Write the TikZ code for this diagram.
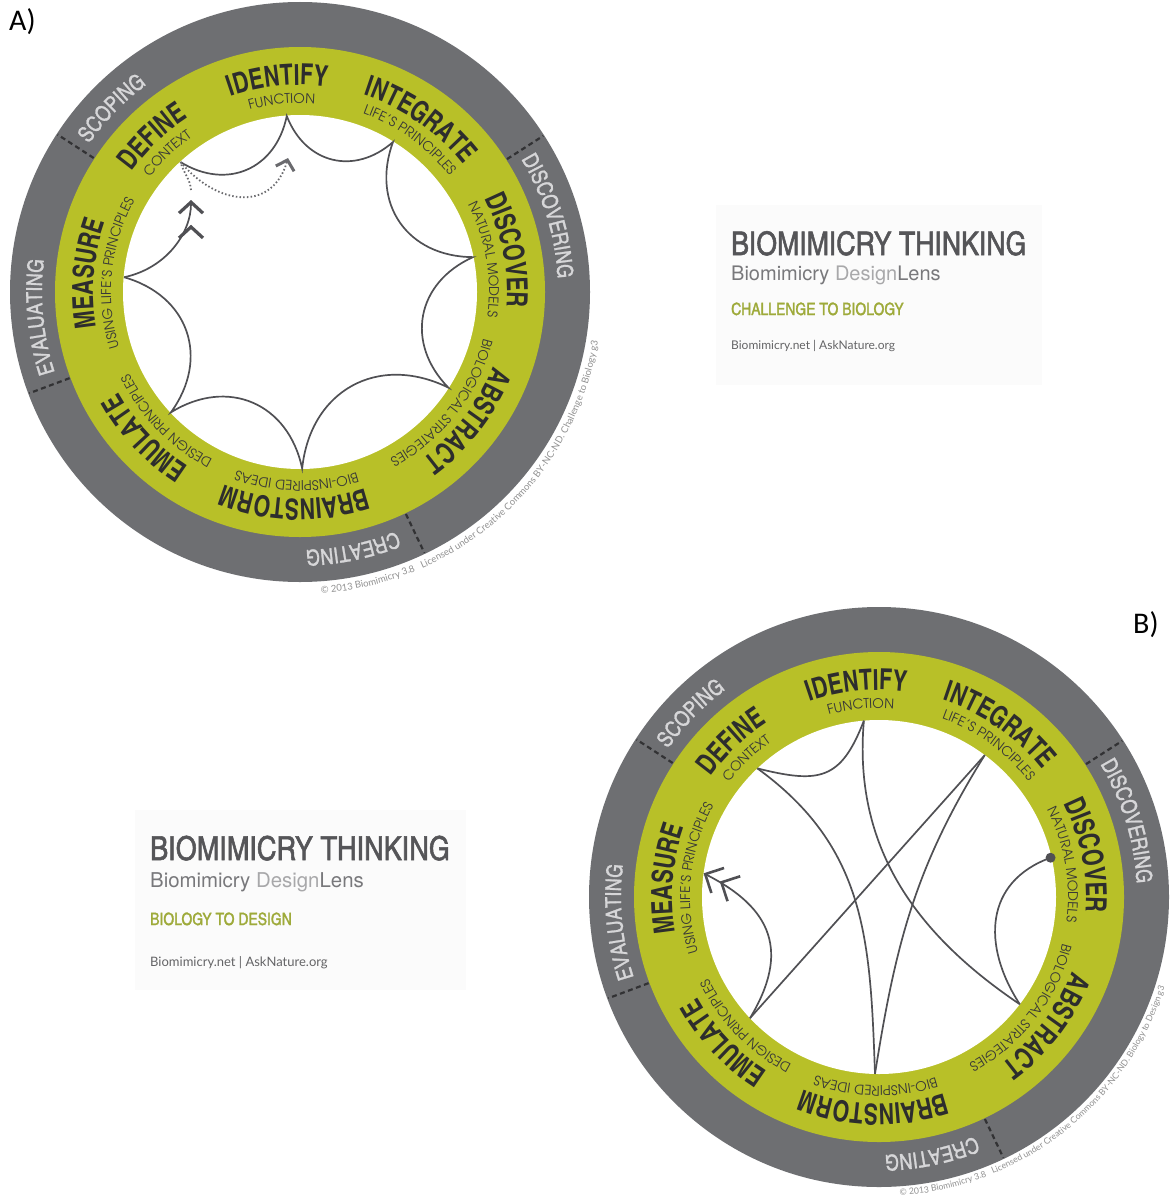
\documentclass[tikz,border=0pt]{standalone}
\usepackage{fontspec}
\usetikzlibrary{decorations.text,arrows.meta}
\setmainfont{TeX Gyre Heros}
\newfontfamily\cnbold{texgyreheroscn-bold}[Extension=.otf,FakeStretch=0.9]
\newfontfamily\cnreg{texgyreheroscn-regular}[Extension=.otf]
\newfontfamily\cnsemi{texgyreheroscn-regular}[Extension=.otf,FakeBold=1.6]
\newfontfamily\cnband{texgyreheroscn-regular}[Extension=.otf,FakeBold=1.2]
\newfontfamily\geo{texgyreadventor-regular}[Extension=.otf]
\newfontfamily\latof{Lato}
\newfontfamily\calib{Carlito}

\definecolor{ringgray}{RGB}{110,111,114}
\definecolor{ringgreen}{RGB}{184,192,40}
\definecolor{bandtext}{RGB}{214,214,216}
\definecolor{labeldark}{RGB}{45,45,45}
\definecolor{subdark}{RGB}{55,55,55}
\definecolor{linegray}{RGB}{80,80,84}
\definecolor{divgray}{RGB}{50,50,52}
\definecolor{titlegray}{RGB}{85,85,88}
\definecolor{subgray}{RGB}{120,120,123}
\definecolor{lightgray2}{RGB}{168,168,170}
\definecolor{olivetext}{RGB}{158,170,58}
\definecolor{urlgray}{RGB}{100,100,102}
\definecolor{copygray}{RGB}{145,145,145}

\newcommand\bigfmt{\cnbold\fontsize{29}{29}\selectfont\color{labeldark}}
\newcommand\subfmt{\geo\fontsize{13.3}{13.3}\selectfont\color{subdark}}
\newcommand\bandfmt{\cnband\fontsize{22}{22}\selectfont\color{bandtext}}
\newcommand\copyfmt{\latof\color{copygray}}

% clockwise arc text, letter tops pointing outward
\newcommand\ringtext[4]{\path[decorate,decoration={text along path,text align=center,text={|#3|#4}}] (#1+45:#2) arc[start angle=#1+45,end angle=#1-45,radius=#2];}

% #1 = end of licence line, #2 = its radius, #3 = its font size
\newcommand\bmwheel[3]{%
  \fill[ringgray] (0,0) circle[radius=290];
  \fill[ringgreen] (0,0) circle[radius=245];
  \fill[white] (0,0) circle[radius=177];
  \foreach \a in {147,32.7,-64.5,200.5} {\draw[divider] (\a:246) -- (\a:289);}
  \ringtext{96}{207}{\bigfmt}{IDENTIFY}
  \ringtext{95.5}{189}{\subfmt}{FUNCTION}
  \ringtext{133.5}{207}{\bigfmt}{DEFINE}
  \ringtext{133.7}{189}{\subfmt}{CONTEXT}
  \ringtext{55}{207}{\bigfmt}{INTEGRATE}
  \ringtext{54.2}{189}{\subfmt}{LIFE’S PRINCIPLES}
  \ringtext{11.3}{207}{\bigfmt}{DISCOVER}
  \ringtext{10}{189}{\subfmt}{NATURAL MODELS}
  \ringtext{-37.5}{207}{\bigfmt}{ABSTRACT}
  \ringtext{-37.9}{189}{\subfmt}{BIOLOGICAL STRATEGIES}
  \ringtext{-91.5}{207}{\bigfmt}{BRAINSTORM}
  \ringtext{-91}{189}{\subfmt}{BIO-INSPIRED IDEAS}
  \ringtext{-136.8}{207}{\bigfmt}{EMULATE}
  \ringtext{-136}{189}{\subfmt}{DESIGN PRINCIPLES}
  \ringtext{175}{207}{\bigfmt}{MEASURE}
  \ringtext{174}{189}{\subfmt}{USING LIFE’S PRINCIPLES}
  \ringtext{135.7}{258}{\bandfmt}{SCOPING}
  \ringtext{17}{258}{\bandfmt}{DISCOVERING}
  \ringtext{-78.4}{258}{\bandfmt}{CREATING}
  \ringtext{185.5}{258}{\bandfmt}{EVALUATING}
  \path[decorate,decoration={text along path,text align=left,text={|\copyfmt\fontsize{#3}{#3}\selectfont|© 2013 Biomimicry 3.8 \ \ Licensed under Creative Commons BY-NC-ND. #1}}]
    (-86:#2) arc[start angle=-86,end angle=8,radius=#2];
}

\begin{document}
\begin{tikzpicture}[x=1pt,y=1pt,
  divider/.style={draw=divgray,line width=2.2pt,dash pattern=on 5pt off 3.5pt},
  conn/.style={draw=linegray,line width=1.7pt},
  dotconn/.style={draw=linegray!85,line width=1.8pt,dash pattern=on 1.5pt off 2.2pt},
  cusp/.style={bend right=55,looseness=1.2},
  sarrow/.style={-{Straight Barb[length=9pt,width=19pt,line width=3pt]}},
  dblarrow/.style={-{Straight Barb[length=11pt,width=24pt,line width=3.2pt,sep=10pt]Straight Barb[length=11pt,width=24pt,line width=3.2pt,sep=10pt]}},
  barrow/.style={-{Straight Barb[length=14pt,width=28pt,line width=2.6pt,sep=1pt]Straight Barb[length=14pt,width=28pt,line width=2.6pt]}},
  titletext/.style={anchor=base west,inner sep=0pt}]
\useasboundingbox (0,-1199) rectangle (1175,0);
\fill[white] (0,-1199) rectangle (1175,0);

% ---------- diagram A ----------
\begin{scope}[shift={(300,-292)}]
  \bmwheel{Challenge to Biology g3}{302}{9.5}
  \coordinate (aD) at (132.6:176.5);
  \coordinate (aI) at (94.3:176.5);
  \coordinate (aG) at (58.2:176.5);
  \coordinate (aV) at (11.4:176.5);
  \coordinate (aA) at (-32.8:176.5);
  \coordinate (aB) at (-89.3:176.5);
  \coordinate (aE) at (223:176.5);
  \coordinate (aM) at (175.2:176.5);
  \coordinate (aC) at (-109,102);
  \coordinate (aT) at (-12,134);
  \draw[conn] (aD) to[cusp] (aI) to[cusp] (aG) to[cusp] (aV) to[cusp] (aA)
     to[cusp] (aB) to[cusp] (aE) to[cusp] (aM);
  \draw[conn,dblarrow] (aM) to[out=12,in=-90] (aC);
  \draw[dotconn] (aC) to[out=95,in=-75] (aD);
  \draw[dotconn,sarrow] (aD) to[out=-50,in=-106,looseness=1.35] (aT);
\end{scope}

% ---------- diagram B ----------
\begin{scope}[shift={(879,-897)}]
  \bmwheel{Biology to Design g3}{299.5}{8.7}
  \coordinate (bI) at (94.9:177);
  \coordinate (bD) at (133.4:177);
  \coordinate (bG) at (53.3:177);
  \coordinate (bV) at (12.9:176);
  \coordinate (bA) at (-37.3:177);
  \coordinate (bB) at (-91.3:177);
  \coordinate (bE) at (223.2:177);
  \coordinate (bM) at (172.3:177);
  \draw[conn] (bD) to[out=-14,in=249,looseness=1.4] (bI);
  \draw[conn] (bD) to[out=-36,in=92,looseness=1.05] (bB);
  \draw[conn] (bI) to[out=-95,in=146] (bA);
  \draw[conn] (bG) -- (bE);
  \draw[conn] (bG) to[out=-122,in=81] (bB);
  \draw[conn] (bV) to[out=200,in=123,looseness=1.2] (bA);
  \draw[conn,barrow] (bE) to[out=59,in=-27,looseness=1.3] (bM);
  \node[circle,fill=linegray,inner sep=0pt,minimum size=10pt] (bVdot) at (bV) {};
\end{scope}

% ---------- title blocks ----------
\fill[black!1.5] (716,-205) rectangle (1042,-385);
\node[titletext,font=\cnsemi\fontsize{32.5}{32.5}\selectfont,text=titlegray] (titleA) at (731,-255) {BIOMIMICRY THINKING};
\node[titletext,font=\fontsize{20}{20}\selectfont,text=subgray] (lensA) at (731,-280) {Biomimicry \textcolor{lightgray2}{Design}Lens};
\node[titletext,font=\cnsemi\fontsize{17}{17}\selectfont,text=olivetext] (modeA) at (731,-315) {CHALLENGE TO BIOLOGY};
\node[titletext,font=\latof\fontsize{12}{12}\selectfont,text=urlgray] (urlA) at (731,-349) {Biomimicry.net | AskNature.org};

\fill[black!1.5] (135,-810) rectangle (466,-990);
\node[titletext,font=\cnsemi\fontsize{33}{33}\selectfont,text=titlegray] (titleB) at (150,-860) {BIOMIMICRY THINKING};
\node[titletext,font=\fontsize{20.4}{20.4}\selectfont,text=subgray] (lensB) at (150,-887) {Biomimicry \textcolor{lightgray2}{Design}Lens};
\node[titletext,font=\cnsemi\fontsize{17}{17}\selectfont,text=olivetext] (modeB) at (150,-925) {BIOLOGY TO DESIGN};
\node[titletext,font=\latof\fontsize{13}{13}\selectfont,text=urlgray] (urlB) at (150,-966) {Biomimicry.net | AskNature.org};

% ---------- panel letters ----------
\node[titletext,font=\calib\fontsize{30}{30}\selectfont] (labA) at (9,-31) {A)};
\node[titletext,font=\calib\fontsize{30}{30}\selectfont] (labB) at (1133,-633) {B)};
\end{tikzpicture}
\end{document}
